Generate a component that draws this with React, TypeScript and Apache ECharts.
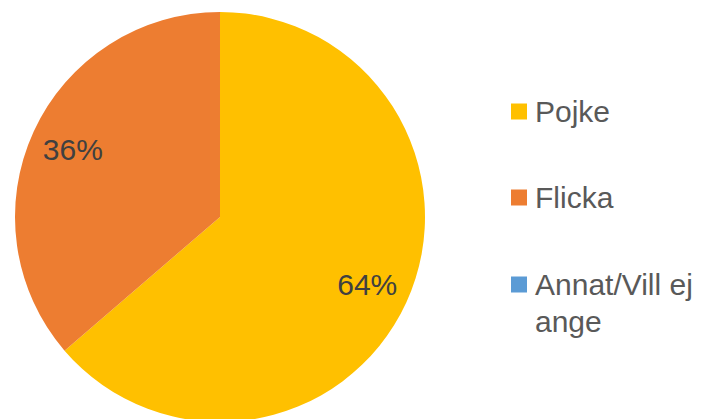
import React, { useEffect, useRef } from "react";
import * as echarts from "echarts";

const categories = ["Pojke", "Flicka", "Annat/Vill ej ange"];
const values = [63.7, 36.3, 0];
const colors = ["#FFC000", "#ED7D31", "#5B9BD5"];
const legendLabels = ["Pojke", "Flicka", "\nAnnat/Vill ej\nange"];

const FONT = "'Liberation Sans', Arial, sans-serif";

export default function App() {
  const ref = useRef<HTMLDivElement>(null);
  useEffect(() => {
    if (!ref.current) return;
    const chart = echarts.init(ref.current, undefined, { renderer: "svg" });
    const data = categories.map((name, i) => ({
      name,
      value: values[i],
      itemStyle: { color: colors[i] },
    }));
    const legendTops = [88, 174, 224];
    chart.setOption({
      animation: false,
      backgroundColor: "#ffffff",
      legend: categories.map((name, i) => ({
        data: [name],
        orient: "vertical",
        left: 506,
        top: legendTops[i],
        itemWidth: 16,
        itemHeight: 16,
        icon: "rect",
        selectedMode: false,
        formatter: () => legendLabels[i],
        textStyle: {
          fontFamily: FONT,
          fontSize: 30,
          color: "#595959",
          lineHeight: 37,
          padding: [0, 0, 0, 3],
        },
      })),
      series: [
        {
          type: "pie",
          center: [220, 217],
          radius: [0, 205],
          startAngle: 90,
          clockwise: true,
          silent: true,
          label: { show: false },
          labelLine: { show: false },
          itemStyle: { borderWidth: 0 },
          data,
        },
        {
          type: "pie",
          center: [220, 217],
          radius: [113, 205],
          startAngle: 90,
          clockwise: true,
          silent: true,
          legendHoverLink: false,
          itemStyle: { color: "rgba(0,0,0,0)", borderWidth: 0 },
          label: {
            show: true,
            position: "inside",
            fontFamily: FONT,
            fontSize: 30,
            color: "#404040",
            formatter: (p: any) => (p.value > 0 ? Math.round(p.percent) + "%" : ""),
          },
          labelLine: { show: false },
          data: categories.map((name, i) => ({
            name: name + " ",
            value: values[i],
            itemStyle: { color: "rgba(0,0,0,0)" },
          })),
        },
      ],
    });
    return () => chart.dispose();
  }, []);
  return <div ref={ref} style={{ width: 709, height: 419, position: "absolute", left: 0, top: 0 }} />;
}
